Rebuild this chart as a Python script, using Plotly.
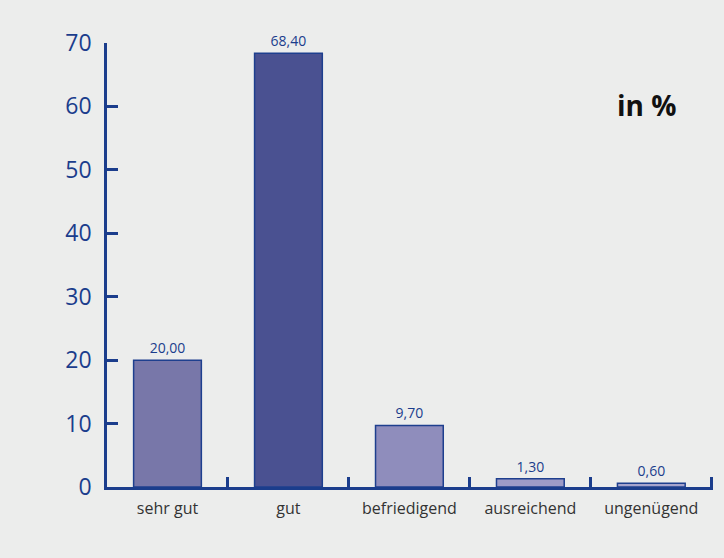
import plotly.graph_objects as go

categories = ["sehr gut", "gut", "befriedigend", "ausreichend", "ungenügend"]
values = [20.00, 68.40, 9.70, 1.30, 0.60]
bar_colors = ["#7877A9", "#4A5191", "#8F8DBC", "#9D9BC7", "#A6A4CD"]
y_ticks = [0, 10, 20, 30, 40, 50, 60, 70]

axis_color = "#1B3D8C"

fig = go.Figure()
fig.add_trace(go.Bar(
    x=categories,
    y=values,
    width=0.56,
    marker=dict(color=bar_colors, line=dict(color="#1E3F8E", width=1.5)),
    texttemplate="%{y:.2f}",
    textposition="outside",
    textfont=dict(color=axis_color, size=14, family="Open Sans"),
    cliponaxis=False,
    hoverinfo="skip",
))

fig.update_layout(
    width=724, height=558,
    margin=dict(l=107, r=11, t=43, b=71),
    paper_bgcolor="#ECEDEC",
    plot_bgcolor="#ECEDEC",
    separators=",.",
    showlegend=False,
    font=dict(family="Open Sans"),
    annotations=[dict(
        text="<b>in %</b>", x=0.942, y=0.86, xref="paper", yref="paper",
        xanchor="right", yanchor="middle", showarrow=False,
        font=dict(size=28, color="#111111", family="Open Sans"),
    )],
)
fig.update_xaxes(
    type="category",
    range=[-0.5, 4.51],
    showline=True, linecolor=axis_color, linewidth=2.5,
    ticks="inside", tickson="boundaries", ticklen=10, tickwidth=2.5, tickcolor=axis_color,
    tickfont=dict(size=16, color="#333333", family="Open Sans"),
    ticklabelstandoff=5,
    showgrid=False, zeroline=False,
)
fig.update_yaxes(
    range=[0, 70], tickvals=y_ticks,
    showline=True, linecolor=axis_color, linewidth=2.5,
    ticks="inside", ticklen=11, tickwidth=2.5, tickcolor=axis_color,
    tickfont=dict(size=23, color=axis_color, family="Open Sans"),
    ticklabelstandoff=8,
    showgrid=False, zeroline=False,
)

fig.write_html(
    "out.html",
    config={"displayModeBar": False},
    post_script="document.body.style.margin='0';document.body.style.overflow='hidden';",
)
